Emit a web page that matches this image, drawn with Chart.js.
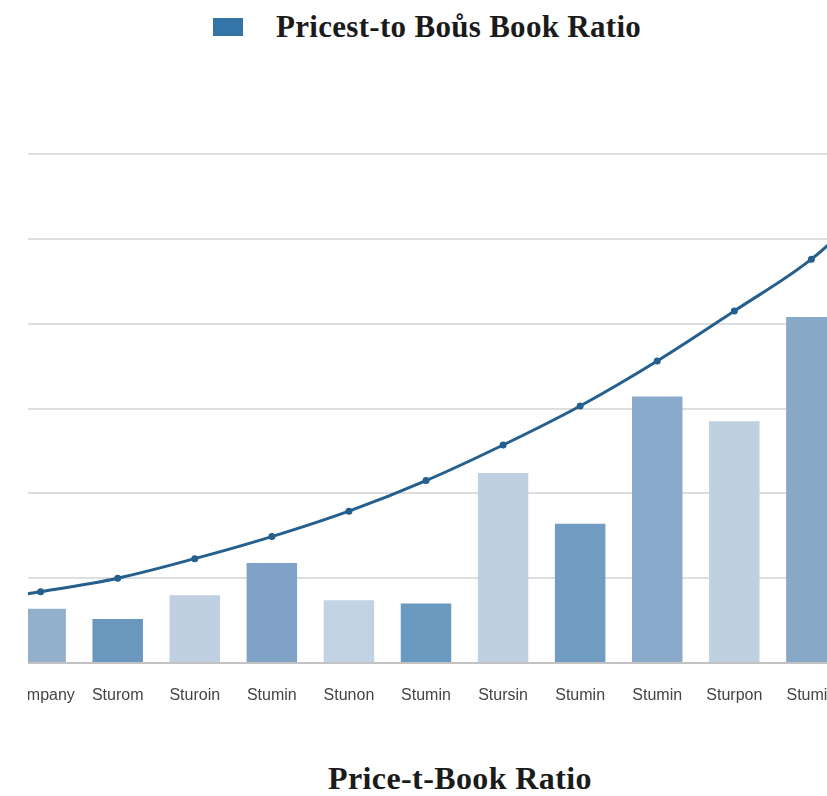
<!DOCTYPE html>
<html>
<head>
<meta charset="utf-8">
<script src="https://cdn.jsdelivr.net/npm/chart.js@4/dist/chart.umd.min.js"></script>
<style>
  html, body { margin: 0; padding: 0; background: #ffffff; }
  body { width: 827px; height: 796px; overflow: hidden; position: relative; }
  #swatch { position: absolute; left: 213px; top: 18px; width: 30px; height: 18px; background: #3574a6; }
  #legendText { position: absolute; left: 276px; top: 11px; font: bold 31px "Liberation Serif", "Times New Roman", serif; line-height: 31px; letter-spacing: 0.3px; color: #1b1b1b; white-space: nowrap; }
  #plotClip { position: absolute; left: 28px; top: 0; width: 799px; height: 723px; overflow: hidden; }
  #plotBox { position: absolute; left: -103px; top: 0; }
  #xTitle { position: absolute; left: 0; top: 762px; width: 920px; text-align: center; font: bold 32px "Liberation Serif", "Times New Roman", serif; line-height: 32px; letter-spacing: 0.4px; color: #1b1b1b; white-space: nowrap; }
</style>
</head>
<body>
<div id="swatch"></div>
<div id="legendText">Pricest-to Boůs Book Ratio</div>
<div id="plotClip"><div id="plotBox"><canvas id="chart" width="1002" height="723"></canvas></div></div>
<div id="xTitle">Price-t-Book Ratio</div>
<script>
// Companies along the x axis (the outer two sit just past the visible edges)
const companies = ['Holdco', 'Company', 'Sturom', 'Sturoin', 'Stumin', 'Stunon', 'Stumin',
                   'Stursin', 'Stumin', 'Stumin', 'Sturpon', 'Stumin', 'Sturnex'];

// Price-to-book ratio per company (bars)
const ratioBars = [0.90, 0.64, 0.52, 0.80, 1.18, 0.74, 0.70, 2.24, 1.64, 3.14, 2.85, 4.08, 4.60];

// Trend of the ratio (line)
const ratioTrend = [0.70, 0.84, 1.00, 1.23, 1.49, 1.79, 2.15, 2.57, 3.03, 3.56, 4.15, 4.76, 5.60];

// Gridline range
const yMin = 0;
const yMax = 6;
const yStep = 1;

const barShades = ['#a9c0d6', '#92b0cb', '#6a97be', '#bfd1e1', '#7fa2c6', '#c1d3e2', '#6b9ac1',
                   '#bfd1e1', '#729dc3', '#8aaacb', '#bfd1e1', '#88a8c8', '#7fa2c6'];

new Chart(document.getElementById('chart'), {
  data: {
    labels: companies,
    datasets: [
      {
        type: 'line',
        label: 'Pricest-to Boůs Book Ratio',
        data: ratioTrend,
        borderColor: '#245f8e',
        backgroundColor: '#245f8e',
        borderWidth: 3,
        pointRadius: 3.5,
        pointBackgroundColor: '#245f8e',
        pointBorderWidth: 0,
        tension: 0.35,
        order: 0
      },
      {
        type: 'bar',
        label: 'Price-to-Book',
        data: ratioBars,
        backgroundColor: barShades,
        borderWidth: 0,
        barPercentage: 0.655,
        categoryPercentage: 1.0,
        order: 1
      }
    ]
  },
  options: {
    responsive: false,
    animation: false,
    layout: { autoPadding: false, padding: { top: 154, left: 0, right: 0, bottom: 0 } },
    plugins: {
      legend: { display: false },
      tooltip: { enabled: false },
      title: { display: false }
    },
    scales: {
      x: {
        offset: true,
        grid: { display: false },
        border: { display: true, color: '#c2c2c2', width: 2 },
        ticks: {
          autoSkip: false,
          maxRotation: 0,
          minRotation: 0,
          padding: 15,
          color: '#444444',
          font: { family: '"Liberation Sans", Arial, sans-serif', size: 16 }
        },
        afterFit: (s) => { s.height = 60; s.paddingLeft = 0; s.paddingRight = 0; }
      },
      y: {
        min: yMin,
        max: yMax,
        ticks: { display: false, stepSize: yStep },
        grid: { color: '#dedede', lineWidth: 2, drawTicks: false },
        border: { display: false },
        afterFit: (s) => { s.width = 0; }
      }
    }
  }
});
</script>
</body>
</html>
